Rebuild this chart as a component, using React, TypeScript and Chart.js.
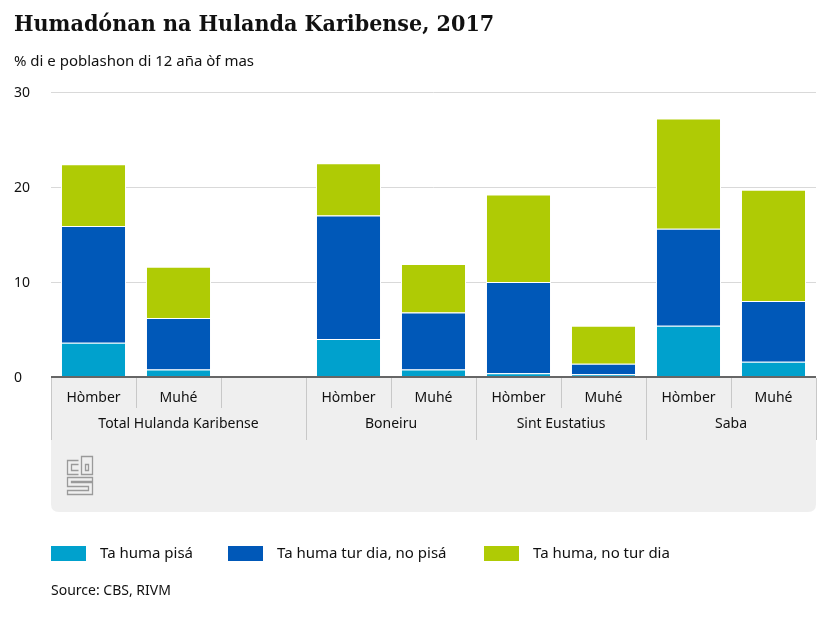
import React, { useEffect, useRef } from "react";
import { Chart, registerables } from "chart.js";

Chart.register(...registerables);

const TITLE = "Humadónan na Hulanda Karibense, 2017";
const SUBTITLE = "% di e poblashon di 12 aña òf mas";
const SOURCE = "Source: CBS, RIVM";

const categories = ["Hòmber", "Muhé", "", "Hòmber", "Muhé", "Hòmber", "Muhé", "Hòmber", "Muhé"];
const groupLabels = ["Total Hulanda Karibense", "Boneiru", "Sint Eustatius", "Saba"];
const groupSpans = [3, 2, 2, 2];

const seriesNames = ["Ta huma pisá", "Ta huma tur dia, no pisá", "Ta huma, no tur dia"];
const pisa = [3.6, 0.8, null, 4.0, 0.8, 0.4, 0.3, 5.4, 1.6];
const turDia = [12.3, 5.4, null, 13.0, 6.0, 9.6, 1.1, 10.2, 6.4];
const noTurDia = [6.5, 5.4, null, 5.5, 5.1, 9.2, 4.0, 11.6, 11.7];

const yTicks = [0, 10, 20, 30];

const COLORS = ["#00a1cd", "#0058b8", "#afcb05"];
const FONT = "'Noto Sans', sans-serif";
const TEXT = "#111";

const overlay = {
  id: "overlay",
  beforeDatasetsDraw(chart: any) {
    const ctx = chart.ctx;
    const ca = chart.chartArea;
    const boxTop = ca.bottom + 1;
    const boxBottom = 512;
    const r = 8;
    ctx.save();
    ctx.fillStyle = "#efefef";
    ctx.beginPath();
    ctx.moveTo(ca.left, boxTop);
    ctx.lineTo(ca.right, boxTop);
    ctx.lineTo(ca.right, boxBottom - r);
    ctx.quadraticCurveTo(ca.right, boxBottom, ca.right - r, boxBottom);
    ctx.lineTo(ca.left + r, boxBottom);
    ctx.quadraticCurveTo(ca.left, boxBottom, ca.left, boxBottom - r);
    ctx.closePath();
    ctx.fill();
    ctx.restore();
  },
  afterDraw(chart: any) {
    const ctx = chart.ctx;
    const ca = chart.chartArea;
    const xs = chart.scales.x;
    const ys = chart.scales.y;
    ctx.save();

    // title & subtitle
    ctx.fillStyle = TEXT;
    ctx.textAlign = "left";
    ctx.textBaseline = "alphabetic";
    ctx.font = `bold 23px 'DejaVu Serif Condensed', 'DejaVu Serif', serif`;
    ctx.fillText(TITLE, 14, 31);
    ctx.font = `15px ${FONT}`;
    ctx.fillText(SUBTITLE, 14, 66);

    // y tick labels
    ctx.font = `14px ${FONT}`;
    ctx.textBaseline = "middle";
    yTicks.forEach((t) => {
      ctx.fillText(String(t), 14, ys.getPixelForValue(t) + 1);
    });

    // baseline axis
    const y0 = ys.getPixelForValue(0);
    ctx.strokeStyle = "#666";
    ctx.lineWidth = 2;
    ctx.beginPath();
    ctx.moveTo(ca.left, y0);
    ctx.lineTo(ca.right, y0);
    ctx.stroke();

    // category separators and labels
    const half = (xs.getPixelForValue(1) - xs.getPixelForValue(0)) / 2;
    ctx.strokeStyle = "#c8c8c8";
    ctx.lineWidth = 1;
    const top = y0 + 1;
    let idx = 0;
    const groupEdges: number[] = [ca.left];
    groupSpans.forEach((span) => {
      for (let k = 0; k < span - 1; k++) {
        const x = Math.round(xs.getPixelForValue(idx + k) + half) + 0.5;
        ctx.beginPath();
        ctx.moveTo(x, top);
        ctx.lineTo(x, 408);
        ctx.stroke();
      }
      idx += span;
      groupEdges.push(xs.getPixelForValue(idx - 1) + half);
    });
    groupEdges.forEach((gx) => {
      const x = Math.round(gx) + 0.5;
      ctx.beginPath();
      ctx.moveTo(x, top);
      ctx.lineTo(x, 440);
      ctx.stroke();
    });

    ctx.fillStyle = TEXT;
    ctx.textAlign = "center";
    ctx.textBaseline = "middle";
    ctx.font = `14px ${FONT}`;
    categories.forEach((c, i) => {
      if (c) ctx.fillText(c, xs.getPixelForValue(i), 398);
    });
    idx = 0;
    groupSpans.forEach((span, g) => {
      const x1 = xs.getPixelForValue(idx) - half;
      const x2 = xs.getPixelForValue(idx + span - 1) + half;
      ctx.fillText(groupLabels[g], (x1 + x2) / 2, 424);
      idx += span;
    });

    // CBS logo (approximate)
    ctx.strokeStyle = "#9a9a9a";
    ctx.lineWidth = 1.3;
    const L = 67.5, T = 456.5;
    // c
    ctx.beginPath();
    ctx.moveTo(L + 11, T + 4);
    ctx.lineTo(L, T + 4);
    ctx.lineTo(L, T + 18);
    ctx.lineTo(L + 11, T + 18);
    ctx.moveTo(L + 11, T + 8);
    ctx.lineTo(L + 4, T + 8);
    ctx.lineTo(L + 4, T + 14);
    ctx.lineTo(L + 11, T + 14);
    ctx.stroke();
    // b
    ctx.beginPath();
    ctx.rect(L + 14, T, 11, 18);
    ctx.rect(L + 18, T + 8, 3, 6);
    ctx.stroke();
    // S
    ctx.beginPath();
    ctx.moveTo(L + 25, T + 21);
    ctx.lineTo(L, T + 21);
    ctx.lineTo(L, T + 30);
    ctx.lineTo(L + 21, T + 30);
    ctx.lineTo(L + 21, T + 34);
    ctx.lineTo(L, T + 34);
    ctx.lineTo(L, T + 38);
    ctx.lineTo(L + 25, T + 38);
    ctx.lineTo(L + 25, T + 26);
    ctx.lineTo(L + 4, T + 26);
    ctx.lineTo(L + 4, T + 25);
    ctx.lineTo(L + 25, T + 25);
    ctx.closePath();
    ctx.stroke();

    // legend
    const legendX = [51, 228, 484];
    ctx.textAlign = "left";
    ctx.textBaseline = "middle";
    ctx.font = `15px ${FONT}`;
    seriesNames.forEach((name, i) => {
      ctx.fillStyle = COLORS[i];
      ctx.fillRect(legendX[i], 546, 35, 15);
      ctx.fillStyle = TEXT;
      ctx.fillText(name, legendX[i] + 49, 554);
    });

    // source
    ctx.font = `14px ${FONT}`;
    ctx.fillText(SOURCE, 51, 591);

    ctx.restore();
  },
};

export default function App() {
  const ref = useRef<HTMLCanvasElement | null>(null);
  useEffect(() => {
    if (!ref.current) return;
    const data = [pisa, turDia, noTurDia];
    const chart = new Chart(ref.current, {
      type: "bar",
      data: {
        labels: categories,
        datasets: seriesNames.map((name, i) => ({
          label: name,
          data: data[i] as any,
          backgroundColor: COLORS[i],
          borderColor: "#ffffff",
          borderWidth: 1,
          categoryPercentage: 0.85,
          barPercentage: 0.9,
        })),
      },
      options: {
        animation: false,
        responsive: false,
        devicePixelRatio: 1,
        layout: { padding: { left: 51, right: 14, top: 92, bottom: 246 } },
        plugins: { legend: { display: false }, tooltip: { enabled: false }, title: { display: false } },
        scales: {
          x: { stacked: true, display: false },
          y: {
            stacked: true,
            min: 0,
            max: 30,
            ticks: { display: false, stepSize: 10 },
            grid: { color: "#d9d9d9", drawTicks: false, lineWidth: 1 },
            border: { display: false },
          },
        },
      },
      plugins: [overlay],
    });
    return () => chart.destroy();
  }, []);
  return (
    <div style={{ position: "absolute", left: 0, top: 0, width: 830, height: 623, background: "#fff" }}>
      <canvas ref={ref} width={830} height={623} style={{ width: 830, height: 623, display: "block" }} />
    </div>
  );
}
